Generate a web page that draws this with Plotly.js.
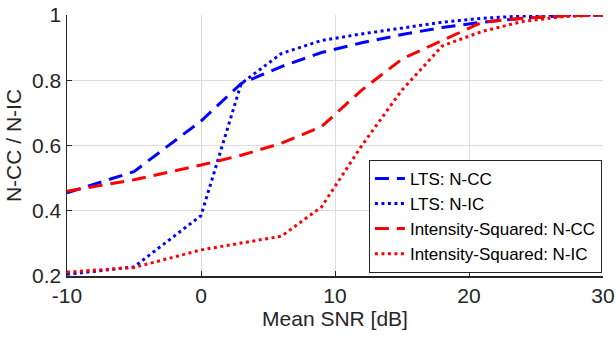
<!DOCTYPE html>
<html>
<head>
<meta charset="utf-8">
<script src="https://cdn.plot.ly/plotly-3.0.1.min.js"></script>
<style>html,body{margin:0;padding:0;background:#fff;}#chart{width:616px;height:342px;}</style>
</head>
<body>
<div id="chart"></div>
<script>
var snr = [-10, -5, 0, 3, 6, 9, 12, 15, 18, 21, 24, 27, 30];
var ltsCC = [0.455, 0.52, 0.675, 0.79, 0.842, 0.885, 0.915, 0.94, 0.962, 0.978, 0.99, 0.998, 1.0];
var ltsIC = [0.205, 0.228, 0.385, 0.79, 0.882, 0.922, 0.942, 0.96, 0.978, 0.99, 0.997, 1.0, 1.0];
var isCC = [0.46, 0.495, 0.54, 0.57, 0.607, 0.658, 0.77, 0.865, 0.922, 0.978, 0.99, 0.998, 1.0];
var isIC = [0.212, 0.226, 0.28, 0.30, 0.322, 0.412, 0.6, 0.77, 0.905, 0.95, 0.98, 0.995, 1.0];
var names = ['LTS: N-CC', 'LTS: N-IC', 'Intensity-Squared: N-CC', 'Intensity-Squared: N-IC'];
var xTicks = [-10, 0, 10, 20, 30];
var yTicks = [0.2, 0.4, 0.6, 0.8, 1];

var dashStyle = '14px,8px';
var dotStyle = '3px,3.5px';
function tr(y, name, color, dash) {
  return {x: snr, y: y, name: name, type: 'scatter', mode: 'lines',
    line: {color: color, width: 3, dash: dash}};
}
var data = [
  tr(ltsCC, names[0], '#0000ff', dashStyle),
  tr(ltsIC, names[1], '#0000ff', dotStyle),
  tr(isCC, names[2], '#ff0000', dashStyle),
  tr(isIC, names[3], '#ff0000', dotStyle)
];
var FONT = 'Liberation Sans, Arial, sans-serif';
var axisCommon = {
  showgrid: true, gridcolor: '#dcdcdc', gridwidth: 1,
  zeroline: false, showline: true, linecolor: '#262626', linewidth: 1.5,
  ticks: 'inside', ticklen: 5, tickcolor: '#262626', tickwidth: 1,
  tickfont: {family: FONT, size: 21, color: '#262626'}
};
var layout = {
  width: 616, height: 342,
  margin: {l: 67, r: 13, t: 15, b: 66},
  paper_bgcolor: '#ffffff', plot_bgcolor: '#ffffff',
  font: {family: FONT, color: '#262626'},
  xaxis: Object.assign({}, axisCommon, {
    range: [-10, 30], tickvals: xTicks, ticktext: xTicks.map(String),
    title: {text: 'Mean SNR [dB]', font: {size: 21, color: '#262626'}, standoff: 4}
  }),
  yaxis: Object.assign({}, axisCommon, {
    range: [0.2, 1], tickvals: yTicks, ticktext: yTicks.map(String),
    title: {text: 'N-CC / N-IC', font: {size: 21, color: '#262626'}, standoff: 4}
  }),
  showlegend: true,
  legend: {
    x: 0.998, y: 0.012, xanchor: 'right', yanchor: 'bottom',
    bgcolor: '#ffffff', bordercolor: '#262626', borderwidth: 1,
    font: {family: FONT, size: 17, color: '#000000'},
    itemwidth: 30, tracegroupgap: 0
  }
};
Plotly.newPlot('chart', data, layout, {displayModeBar: false, staticPlot: true});
</script>
</body>
</html>
